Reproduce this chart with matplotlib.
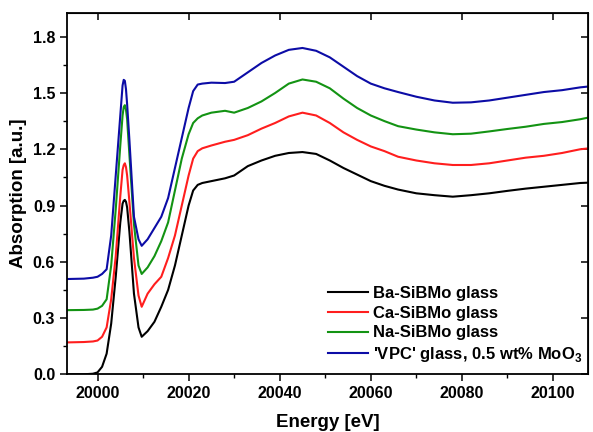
import matplotlib
matplotlib.use("Agg")
import matplotlib.pyplot as plt
from matplotlib.ticker import MultipleLocator, FormatStrFormatter

plt.rcParams['font.family'] = ['Liberation Sans', 'DejaVu Sans']
plt.rcParams['font.weight'] = 'bold'
plt.rcParams['mathtext.fontset'] = 'custom'
plt.rcParams['mathtext.rm'] = 'Liberation Sans'
plt.rcParams['mathtext.bf'] = 'Liberation Sans:bold'

# Energy grid (eV)
energy = [19993.4, 19997, 19999, 20000, 20001, 20002, 20003, 20004, 20005, 20005.5,
          20005.75, 20006, 20006.25, 20006.5, 20007, 20008, 20009, 20009.7, 20011, 20012.5,
          20014, 20015.5, 20017, 20018.5, 20020, 20021, 20022, 20023, 20025, 20028,
          20030, 20033, 20036, 20039, 20042, 20045, 20048, 20051, 20054, 20057,
          20060, 20063, 20066, 20070, 20074, 20078, 20082, 20086, 20090, 20094,
          20098, 20102, 20106, 20108]

ba_glass = [0.0, 0.0, 0.003, 0.01, 0.04, 0.11, 0.27, 0.52, 0.81, 0.91,
            0.925, 0.93, 0.92, 0.89, 0.76, 0.43, 0.25, 0.20, 0.23, 0.28,
            0.36, 0.45, 0.58, 0.74, 0.90, 0.98, 1.01, 1.02, 1.03, 1.045,
            1.06, 1.11, 1.14, 1.165, 1.18, 1.185, 1.175, 1.14, 1.10, 1.065,
            1.03, 1.005, 0.985, 0.965, 0.955, 0.947, 0.955, 0.965, 0.978, 0.99,
            1.0, 1.01, 1.02, 1.022]

ca_glass = [0.17, 0.172, 0.175, 0.18, 0.20, 0.25, 0.40, 0.63, 0.95, 1.09,
            1.115, 1.125, 1.105, 1.06, 0.92, 0.62, 0.42, 0.36, 0.43, 0.48,
            0.52, 0.62, 0.74, 0.90, 1.06, 1.15, 1.19, 1.205, 1.22, 1.24,
            1.25, 1.275, 1.31, 1.34, 1.375, 1.395, 1.38, 1.34, 1.29, 1.25,
            1.215, 1.19, 1.16, 1.14, 1.125, 1.116, 1.116, 1.125, 1.14, 1.155,
            1.165, 1.18, 1.2, 1.205]

na_glass = [0.342, 0.343, 0.345, 0.35, 0.365, 0.40, 0.58, 0.88, 1.22, 1.38,
            1.425, 1.435, 1.41, 1.36, 1.17, 0.80, 0.58, 0.535, 0.57, 0.63,
            0.71, 0.81, 0.98, 1.15, 1.28, 1.34, 1.365, 1.38, 1.395, 1.405,
            1.395, 1.42, 1.455, 1.50, 1.55, 1.572, 1.56, 1.525, 1.47, 1.42,
            1.38, 1.35, 1.323, 1.305, 1.29, 1.28, 1.283, 1.295, 1.308, 1.32,
            1.335, 1.345, 1.36, 1.37]

vpc_glass = [0.508, 0.51, 0.515, 0.52, 0.535, 0.56, 0.74, 1.06, 1.38, 1.54,
             1.57, 1.565, 1.52, 1.44, 1.25, 0.84, 0.72, 0.685, 0.72, 0.78,
             0.84, 0.94, 1.10, 1.26, 1.42, 1.51, 1.545, 1.55, 1.555, 1.553,
             1.56, 1.61, 1.66, 1.70, 1.73, 1.74, 1.725, 1.69, 1.64, 1.59,
             1.55, 1.525, 1.505, 1.48, 1.46, 1.448, 1.45, 1.46, 1.475, 1.49,
             1.505, 1.515, 1.53, 1.535]

labels = ['Ba-SiBMo glass', 'Ca-SiBMo glass', 'Na-SiBMo glass',
          "'VPC' glass, 0.5 wt% MoO$_\\mathbf{3}$"]
colors = ['black', '#ff1e1e', '#139313', '#0c0ca6']

fig = plt.figure(figsize=(5.93, 4.32), dpi=100)
ax = fig.add_axes([0.113, 0.1336, 0.8786, 0.8374])

for series, lab, col in zip([ba_glass, ca_glass, na_glass, vpc_glass], labels, colors):
    ax.plot(energy, series, color=col, lw=1.5, label=lab)

ax.set_xlim(19993.3, 20107.7)
ax.set_ylim(0, 1.929)

ax.xaxis.set_major_locator(MultipleLocator(20))
ax.xaxis.set_minor_locator(MultipleLocator(10))
ax.yaxis.set_major_locator(MultipleLocator(0.3))
ax.yaxis.set_minor_locator(MultipleLocator(0.15))
ax.yaxis.set_major_formatter(FormatStrFormatter('%.1f'))
ax.tick_params(which='major', direction='out', length=5, width=1.1, labelsize=11.5)
ax.tick_params(which='minor', direction='out', length=3, width=1.0)
for s in ax.spines.values():
    s.set_linewidth(1.3)

# mirror ticks on top / right, pointing inward
top = ax.secondary_xaxis('top')
top.xaxis.set_major_locator(MultipleLocator(20))
top.tick_params(direction='in', length=5, width=1.1, labeltop=False)
right = ax.secondary_yaxis('right')
right.yaxis.set_major_locator(MultipleLocator(0.3))
right.tick_params(direction='in', length=5, width=1.1, labelright=False)

ax.set_xlabel('Energy [eV]', fontsize=13.5, fontweight='bold', labelpad=9)
ax.set_ylabel('Absorption [a.u.]', fontsize=13.5, fontweight='bold', labelpad=4)

ax.legend(loc='upper left', bbox_to_anchor=(0.5, 0.244), frameon=False,
          fontsize=12, handlelength=2.4, handletextpad=0.3,
          labelspacing=0.28, borderpad=0, borderaxespad=0)

fig.savefig('out.png', dpi=100)
